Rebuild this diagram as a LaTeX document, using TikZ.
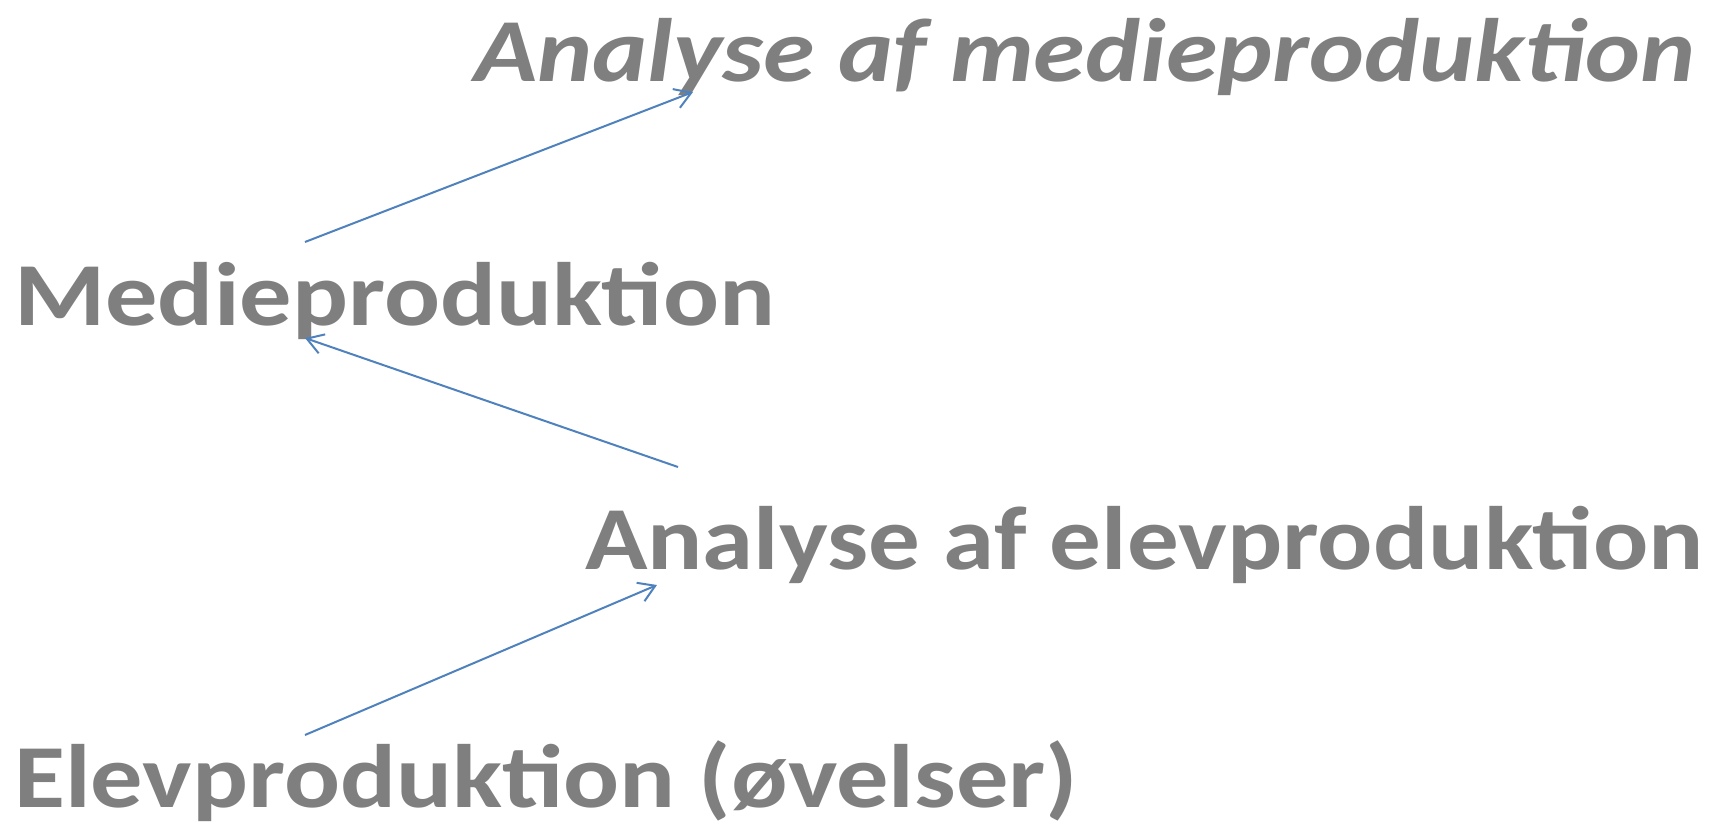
\documentclass[tikz,border=0pt]{standalone}
\usepackage{fontspec}
\setmainfont{Carlito}
\usetikzlibrary{arrows.meta}
\definecolor{txtgray}{RGB}{127,127,127}
\definecolor{arrowblue}{RGB}{79,129,189}
\newcommand{\wide}[2][1.16]{\scalebox{#1}[1]{#2}}
\tikzset{
  lbl/.style={anchor=base west, inner sep=0pt, text=txtgray, font=\fontsize{90}{100}\selectfont\bfseries},
  conn/.style={draw=arrowblue, line width=2pt, -{Straight Barb[length=16pt,width=20pt,line width=2pt]}}
}
\begin{document}
\begin{tikzpicture}[x=1pt,y=1pt]
\useasboundingbox (0,0) rectangle (1716,831);
\node[lbl, font=\fontsize{90}{100}\selectfont\bfseries\itshape] (amp) at (474,749) {\wide{Analyse af medieproduktion}};
\node[lbl] (mp) at (14,505) {\wide{Medieproduktion}};
\node[lbl] (aep) at (585,262) {\wide[1.145]{Analyse af elevproduktion}};
\node[lbl] (ep) at (14,24) {\wide{Elevproduktion (øvelser)}};
\coordinate (s1) at (305,589);
\coordinate (e1) at (693,739);
\coordinate (s2) at (678,364);
\coordinate (e2) at (305,493);
\coordinate (s3) at (305,96);
\coordinate (e3) at (657,246);
\draw[conn] (s1) -- (e1);
\draw[conn] (s2) -- (e2);
\draw[conn] (s3) -- (e3);
\end{tikzpicture}
\end{document}
